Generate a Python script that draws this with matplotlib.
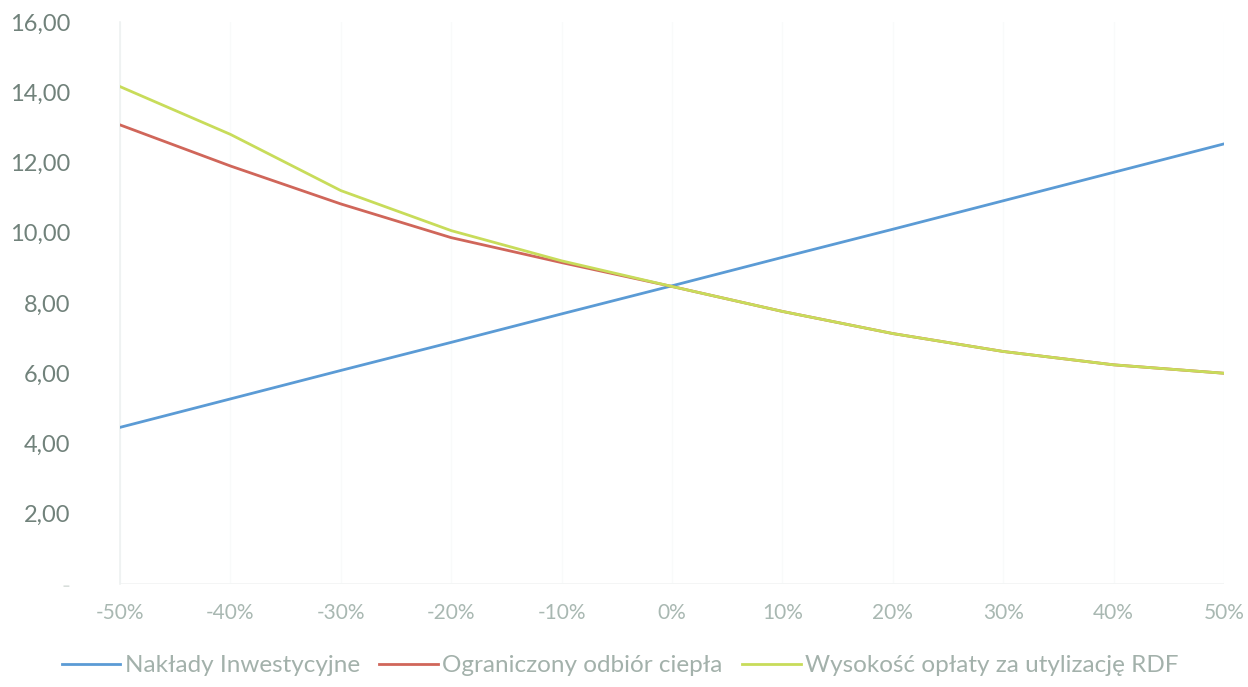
import numpy as np
import matplotlib
matplotlib.use('Agg')
import matplotlib.pyplot as plt

### chart data
change_pct = [-50, -40, -30, -20, -10, 0, 10, 20, 30, 40, 50]
tick_labels = ['-50%', '-40%', '-30%', '-20%', '-10%', '0%', '10%', '20%', '30%', '40%', '50%']

naklady = [4.46, 5.27, 6.08, 6.88, 7.69, 8.49, 9.30, 10.10, 10.91, 11.72, 12.53]
odbior_ciepla = [13.07, 11.90, 10.82, 9.86, 9.15, 8.47, 7.76, 7.13, 6.62, 6.24, 6.00]
oplata_rdf = [14.16, 12.80, 11.20, 10.06, 9.20, 8.47, 7.76, 7.13, 6.62, 6.24, 6.00]

series_names = ['Nakłady Inwestycyjne', 'Ograniczony odbiór ciepła',
                'Wysokość opłaty za utylizację RDF']

### figure setup
plt.rcParams['font.family'] = ['Lato', 'DejaVu Sans']
fig = plt.figure(figsize=(12.48, 6.87), dpi=100)
ax = fig.add_axes([0.0962, 0.1499, 0.8846, 0.8181])

ax.plot(change_pct, naklady, color='#5b9bd5', lw=2.0, label=series_names[0], zorder=3)
ax.plot(change_pct, odbior_ciepla, color='#d0665a', lw=2.0, label=series_names[1], zorder=3)
ax.plot(change_pct, oplata_rdf, color='#c8dc5a', lw=2.0, label=series_names[2], zorder=4)

### axes properties
ax.set_xlim(-50, 50)
ax.set_ylim(0, 16)
ax.set_xticks(change_pct)
ax.set_xticklabels(tick_labels)
yt = np.arange(0, 17, 2)
ax.set_yticks(yt)
ax.set_yticklabels(['-'] + ['{:.2f}'.format(v).replace('.', ',') for v in yt[1:]])

for s in ['top', 'right', 'bottom']:
    ax.spines[s].set_visible(False)
ax.spines['left'].set_color('#eef1f1')
ax.spines['left'].set_linewidth(1.2)
ax.axhline(0, color='#f2f4f4', lw=1.2, zorder=1)
ax.grid(axis='x', color='#f9fafa', lw=1.0)
ax.set_axisbelow(True)

ax.tick_params(axis='both', length=0)
ax.tick_params(axis='y', labelsize=17, labelcolor='#71827b', pad=36)
ax.tick_params(axis='x', labelsize=15, labelcolor='#a9b8b2', pad=14)
ax.get_yticklabels()[0].set_color('#d8dedb')

### legend
fig.legend(loc='lower center', bbox_to_anchor=(0.497, -0.016), ncol=3, frameon=False,
           fontsize=17.5, handlelength=2.4, handletextpad=0.2, columnspacing=0.8,
           labelcolor='#a3b1ab')

fig.savefig('out.png', dpi=100)
